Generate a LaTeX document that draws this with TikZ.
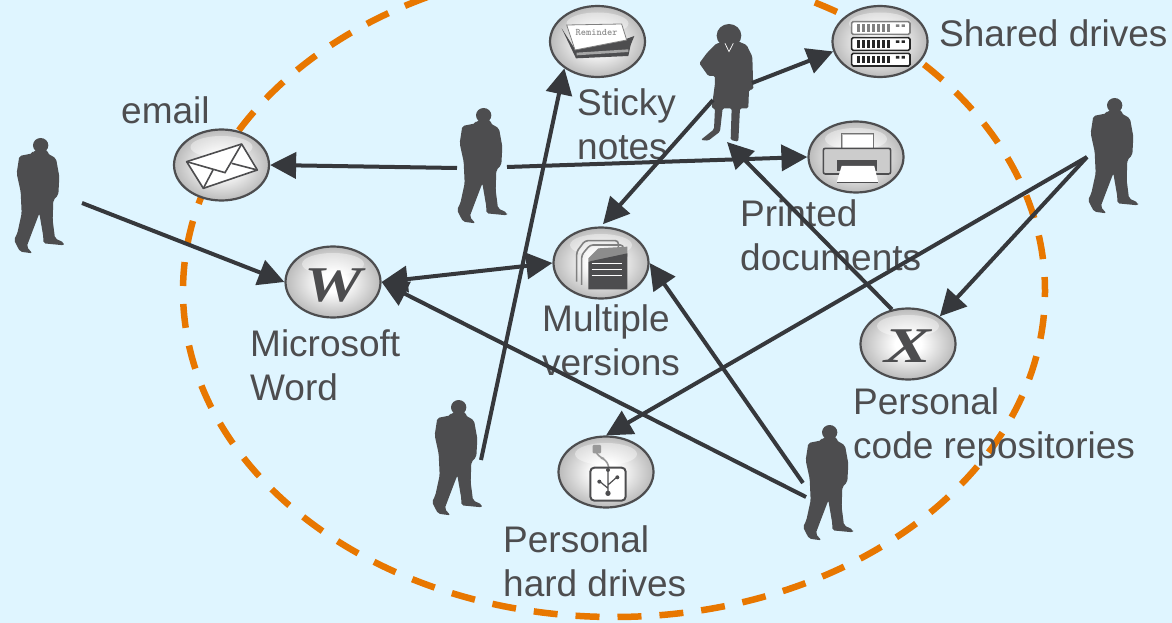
\documentclass[tikz,border=0pt]{standalone}
\usepackage{fontspec}
\setmainfont{Liberation Sans}
\newfontfamily\glyphfont{Liberation Serif}
\usetikzlibrary{arrows.meta,shapes.geometric}
\definecolor{skyback}{HTML}{DFF5FF}
\definecolor{inkgray}{HTML}{4D4D4F}
\definecolor{arrowgray}{HTML}{36383C}
\definecolor{ringorange}{HTML}{E87700}
\pgfdeclareradialshading{ballshade}{\pgfpoint{0bp}{0bp}}{color(0bp)=(white); color(7bp)=(white); color(25bp)=(black!27); color(50bp)=(black!27)}
\tikzset{
    ball/.style={ellipse, draw=inkgray, line width=2.2pt, inner sep=0pt,
        minimum width=95pt, minimum height=71pt, shade, shading=ballshade,
        path picture={\fill[white,opacity=.4] ([yshift=18pt]path picture bounding box.center) ellipse (31 and 11);}},
    link/.style={draw=arrowgray, line width=4pt, -{Triangle[length=26pt,width=26pt]}},
    tag/.style={anchor=north west, align=left, inner sep=0pt, text=inkgray,
        font=\fontsize{37}{44.5}\selectfont},
    bigglyph/.style={text=inkgray, inner sep=0pt, font=\glyphfont\bfseries\itshape\fontsize{50}{50}\selectfont},
    ring/.style={draw=ringorange, line width=6.5pt, dash pattern=on 24pt off 18pt, dash phase=18pt},
    zoomed/.style={x=.3333pt, y=-.3333pt},
    manfig/.pic={
        \begin{scope}[zoomed]
            \fill[inkgray] (122,76) ellipse (23 and 22);
            \fill[inkgray, rounded corners=2pt] (100,92) -- (98,100) -- (58,108) -- (50,160) -- (62,215) -- (65,280)
                -- (52,340) -- (42,360) -- (60,395) -- (97,400) -- (80,380) -- (95,340) -- (118,280)
                -- (130,350) -- (130,370) -- (192,376) -- (192,368) -- (165,355) -- (158,300) -- (160,240)
                -- (175,225) -- (178,170) -- (168,115) -- (142,100) -- (142,90) -- cycle;
        \end{scope}
    },
}
\begin{document}
\begin{tikzpicture}[x=1pt, y=-1pt]
    \clip (0,0) rectangle (1172,623);
    \fill[skyback] (0,0) rectangle (1172,623);
    \draw[ring] (614,291) ellipse (431 and 326);

    % icons
    \node[ball] (email) at (221.5,165) {};
    \node[ball] (word) at (333,282) {};
    \node[ball] (sticky) at (597.5,41.5) {};
    \node[ball] (shared) at (880,41.5) {};
    \node[ball] (printer) at (856,157) {};
    \node[ball] (multiple) at (601,263) {};
    \node[ball] (code) at (908,344) {};
    \node[ball] (hard) at (606,472) {};

    \node[bigglyph] (wglyph) at (333,286) {\scalebox{1.3}[1]{W}};
    \node[bigglyph] (xglyph) at (908,346) {\scalebox{1.4}[1]{X}};

    % envelope
    \begin{scope}[shift={(150,120)}, zoomed]
        \filldraw[fill=white, draw=inkgray, line width=1.6pt, line join=round]
            (110,125) -- (275,72) -- (322,150) -- (160,205) -- cycle;
        \draw[inkgray, line width=1.6pt] (110,125) -- (225,158) -- (275,72);
        \draw[inkgray, line width=1.6pt] (160,205) -- (190,148) (322,150) -- (245,130);
    \end{scope}

    % reminder pad
    \begin{scope}[shift={(540,0)}, zoomed]
        \fill[inkgray] (65,85) -- (108,175) -- (265,168) -- (272,135) -- (283,108) -- (250,120) -- (100,140) -- cycle;
        \fill[black!35] (110,158) -- (265,148) -- (265,156) -- (110,166) -- cycle;
        \filldraw[fill=white, draw=black!50, line width=.8pt] (80,75) -- (245,72) -- (260,120) -- (105,150) -- cycle;
        \node[text=black!45, inner sep=0pt, font=\bfseries\ttfamily\fontsize{10}{10}\selectfont] (pad) at (170,97) {Reminder};
    \end{scope}

    % server stack
    \begin{scope}[shift={(540,0)}, zoomed]
        \foreach \top/\shade in {65/50, 113/85, 160/85}{
            \filldraw[fill=white, draw=black!\shade, line width=1.6pt, rounded corners=1.5pt] (935,\top) rectangle (1110,\top+38);
            \foreach \bar in {950,965,...,1040}
                \fill[black!\shade] (\bar,\top+8) rectangle (\bar+9,\top+30);
            \fill[black!\shade] (1068,\top+8) rectangle (1078,\top+16) (1085,\top+8) rectangle (1095,\top+16);
        }
    \end{scope}

    % printer
    \begin{scope}[shift={(540,0)}, zoomed]
        \filldraw[fill=black!25, draw=black!55, line width=1pt] (905,400) rectangle (1002,452);
        \fill[white] (909,404) rectangle (998,448);
        \filldraw[fill=black!20, draw=inkgray, line width=1.6pt, rounded corners=2pt] (850,445) rectangle (1052,522);
        \fill[inkgray] (890,480) rectangle (1012,512);
        \fill[white] (905,498) -- (1003,498) -- (1015,548) -- (890,548) -- cycle;
        \draw[inkgray, line width=1pt] (890,548) -- (1015,548);
    \end{scope}

    % document pile
    \begin{scope}[shift={(540,220)}, zoomed]
        \draw[black!50, line width=1.6pt, rounded corners=3pt] (110,185) -- (110,95) -- (135,62) -- (235,62) -- (235,90);
        \draw[black!50, line width=1.6pt, rounded corners=3pt] (125,195) -- (125,105) -- (150,75) -- (250,75) -- (250,95);
        \fill[black!45] (175,85) -- (262,80) -- (262,110) -- (145,125) -- (145,115) -- cycle;
        \fill[inkgray] (145,125) -- (262,100) -- (262,208) -- (145,208) -- cycle;
        \foreach \row in {130,150,168}
            \draw[white, line width=1pt] (155,\row) -- (245,\row);
    \end{scope}

    % usb stick
    \begin{scope}[shift={(540,220)}, zoomed]
        \fill[black!40, rounded corners=1pt] (158,675) rectangle (183,700);
        \draw[black!40, line width=1.6pt, rounded corners=6pt] (170,700) -- (175,712) -- (200,718) -- (206,742);
        \filldraw[fill=white, draw=inkgray, line width=2pt, rounded corners=4pt] (151,743) rectangle (257,842);
        \draw[inkgray, line width=1.2pt] (204,755) -- (204,820) (204,805) -- (180,785) (204,795) -- (230,772);
        \fill[inkgray] (204,820) circle (8) (204,750) circle (6) (178,785) circle (6) (232,772) circle (6);
    \end{scope}

    % labels
    \node[tag] (emailtag) at (121,96) {email};
    \node[tag] (sharedtag) at (939,19) {Shared drives};
    \node[tag] (stickytag) at (577,88) {Sticky\\notes};
    \node[tag] (printedtag) at (740,199) {Printed\\documents};
    \node[tag] (multipletag) at (542,304) {Multiple\\versions};
    \node[tag] (wordtag) at (250,329) {Microsoft\\Word};
    \node[tag] (codetag) at (853,387) {Personal\\code repositories};
    \node[tag] (hardtag) at (503,525) {Personal\\hard drives};

    % people
    \pic (manleft) at (0,120) {manfig};
    \pic (manmid) at (443,90) {manfig};
    \pic (manlow) at (418,382) {manfig};
    \pic (manright) at (1074,80) {manfig};
    \pic (manfoot) at (789,407) {manfig};
    \begin{scope}[shift={(540,0)}, zoomed]
        \fill[inkgray] (567,107) ellipse (37 and 35);
        \fill[inkgray, rounded corners=1.5pt] (530,130) -- (500,160) -- (478,190) -- (505,228) -- (525,228)
            -- (525,250) -- (515,325) -- (525,325) -- (522,388) -- (482,420) -- (505,422) -- (540,395) -- (548,325)
            -- (575,325) -- (572,420) -- (595,425) -- (600,325) -- (625,325) -- (627,270) -- (640,268) -- (637,170)
            -- (620,135) -- (590,122) -- cycle;
        \draw[white, line width=.7pt] (555,130) -- (567,155) -- (580,130);
    \end{scope}

    \coordinate (leftout) at (82,203);
    \coordinate (midwest) at (457,168);
    \coordinate (mideast) at (507,167);
    \coordinate (lowout) at (481,460);
    \coordinate (ladysw) at (713,100);
    \coordinate (ladyse) at (752,83);
    \coordinate (ladyin) at (727,142);
    \coordinate (rightout) at (1087,157);
    \coordinate (footup) at (803,483);
    \coordinate (footwest) at (806,497);

    % connectors
    \draw[link] (leftout) -- (word.180);
    \draw[link] (midwest) -- (email.0);
    \draw[link] (mideast) -- (printer.180);
    \draw[link, {Triangle[length=26pt,width=26pt]}-{Triangle[length=26pt,width=26pt]}] (word.0) -- (multiple.180);
    \draw[link] (lowout) -- (sticky.219);
    \draw[link, shorten >=3pt] (ladysw) -- (multiple.90);
    \draw[link] (ladyse) -- (shared.192);
    \draw[link] (code.115) -- (ladyin);
    \draw[link] (rightout) -- (hard.90);
    \draw[link] (rightout) -- (code.41);
    \draw[link] (footwest) -- (word.0);
    \draw[link] (footup) -- (multiple.0);
\end{tikzpicture}
\end{document}
